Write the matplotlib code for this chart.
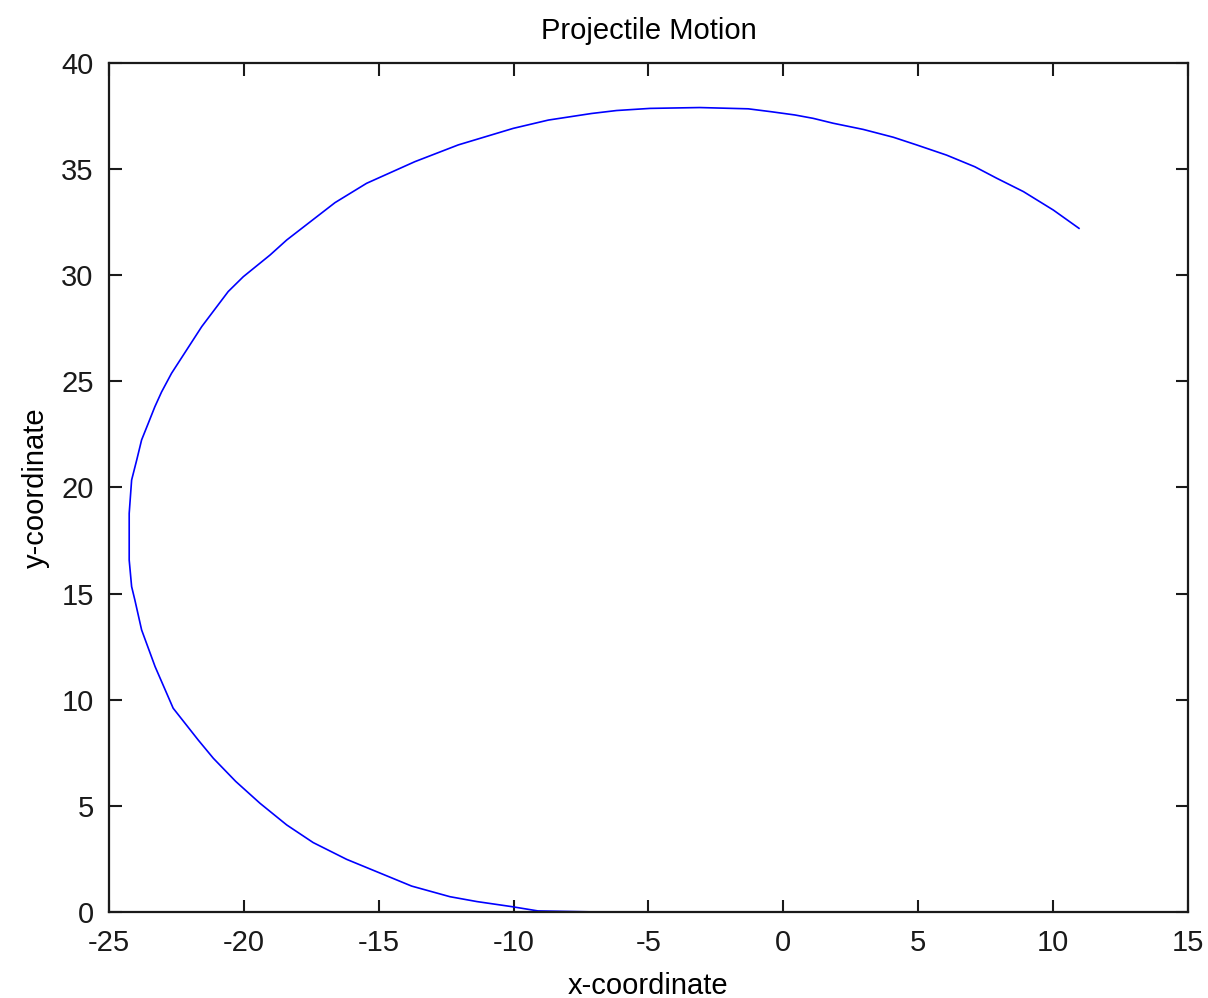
import matplotlib.pyplot as plt

# trajectory
x_coord = [-6.9, -9.1, -10.06, -11.36, -12.36, -13.78, -15.08, -16.19, -17.43,
           -18.41, -19.40, -20.30, -21.13, -21.69, -22.62, -23.29, -23.79,
           -24.04, -24.16, -24.25, -24.25, -24.16, -23.97, -23.79, -23.55,
           -23.30, -23.05, -22.68, -22.12, -21.56, -20.58, -20.02, -19.03,
           -18.41, -16.62, -15.45, -13.66, -12.05, -10.01, -8.71, -7.11,
           -6.18, -4.94, -3.10, -1.30, -0.43, 0.43, 1.11, 1.85, 2.96, 4.08, 4.94,
           6.05, 7.10, 7.91, 8.90, 10.01, 10.96]
y_coord = [0.0, 0.05, 0.25, 0.49, 0.72, 1.22, 1.90, 2.48, 3.27,
           4.10, 5.12, 6.15, 7.24, 8.10, 9.60, 11.56, 13.29,
           14.70, 15.33, 16.58, 18.78, 20.35, 21.30, 22.24, 23.00,
           23.80, 24.50, 25.38, 26.48, 27.58, 29.23, 29.93, 30.95,
           31.66, 33.42, 34.33, 35.35, 36.14, 36.92, 37.31, 37.62,
           37.76, 37.86, 37.90, 37.84, 37.70, 37.55, 37.39, 37.16, 36.87, 36.50, 36.14,
           35.66, 35.11, 34.57, 33.94, 33.07, 32.21]

x_ticks = [-25, -20, -15, -10, -5, 0, 5, 10, 15]
y_ticks = [0, 5, 10, 15, 20, 25, 30, 35, 40]

plt.rcParams['font.family'] = ['Liberation Sans', 'DejaVu Sans']
plt.rcParams['axes.unicode_minus'] = False

fig = plt.figure(figsize=(12.08, 9.98), dpi=100)
ax = fig.add_axes([0.0902, 0.0862, 0.8932, 0.8507])

ax.plot(x_coord, y_coord, color='#0000ff', linewidth=1.2)

ax.set_xlim(-25, 15)
ax.set_ylim(0, 40)
ax.set_xticks(x_ticks)
ax.set_yticks(y_ticks)
ax.tick_params(direction='in', length=9, width=1.5, top=True, right=True,
               labelsize=21, colors='#1a1a1a')
ax.tick_params(axis='x', pad=12)
ax.tick_params(axis='y', pad=11)
for s in ax.spines.values():
    s.set_linewidth(1.6)
    s.set_color('#1a1a1a')

ax.set_title('Projectile Motion', fontsize=21, pad=17)
ax.set_xlabel('x-coordinate', fontsize=21, labelpad=11)
ax.set_ylabel('y-coordinate', fontsize=21, labelpad=8)

fig.savefig('out.png', dpi=100)
